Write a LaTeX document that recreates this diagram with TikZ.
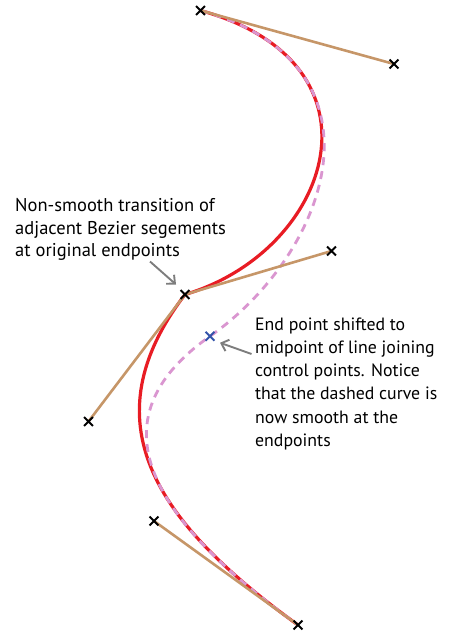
\documentclass[tikz,border=0pt]{standalone}
\usepackage{fontspec}
\setmainfont{PT Sans}
\usetikzlibrary{arrows.meta,shapes.misc,calc}
\definecolor{curvered}{RGB}{232,28,36}
\definecolor{handtan}{RGB}{198,150,104}
\definecolor{dashpink}{RGB}{218,150,208}
\definecolor{markblue}{RGB}{52,84,170}
\definecolor{notegray}{RGB}{125,125,125}
\tikzset{
  pt/.style={cross out,draw=black,line width=1.8pt,minimum size=7pt,inner sep=0pt},
  newpt/.style={pt,draw=markblue},
  handle/.style={handtan,line width=2.6pt},
  original/.style={curvered,line width=3.2pt},
  smoothed/.style={dashpink,line width=2.8pt,dash pattern=on 8pt off 6pt},
  pointer/.style={notegray,line width=1.9pt,-{Straight Barb[length=6.5pt,width=12pt,line width=1.9pt]}},
  note/.style={anchor=north west,inner sep=0pt,align=left}
}
\begin{document}
\begin{tikzpicture}[x=1pt,y=-1pt]
\useasboundingbox (0,0) rectangle (461,637);
% anchor and control points of the two cubic segments
\coordinate (a0) at (200.5,10.5);
\coordinate (a1) at (394,64);
\coordinate (a2) at (331.5,251);
\coordinate (e)  at (185,294.5);
\coordinate (b1) at (88.5,421.5);
\coordinate (b2) at (154,521);
\coordinate (b3) at (298,625);
\coordinate (m)  at ($(a2)!0.5!(b1)$);
% original curve, kink at e
\draw[original] (a0) .. controls (a1) and (a2) .. (e)
                     .. controls (b1) and (b2) .. (b3);
% curve with the shared endpoint moved to the midpoint
\draw[smoothed] (a0) .. controls (a1) and (a2) .. (m)
                     .. controls (b1) and (b2) .. (b3);
% control handles
\draw[handle] (a0) -- (a1);
\draw[handle] (a2) -- (e) -- (b1);
\draw[handle] (b2) -- (b3);
% point markers
\node[pt] (P0) at (a0) {};
\node[pt] (P1) at (a1) {};
\node[pt] (P2) at (a2) {};
\node[pt] (PE) at (e) {};
\node[pt] (P4) at (b1) {};
\node[pt] (P5) at (b2) {};
\node[pt] (P6) at (b3) {};
\node[newpt] (PM) at (m) {};
% annotations
\node[note,font=\fontsize{18.5}{22.4}\selectfont] (t1) at (15,198.5)
  {Non-smooth transition of\\adjacent Bezier segements\\at original endpoints};
\node[note,font=\fontsize{17.8}{23.2}\selectfont] (t2) at (255,317.5)
  {End point shifted to\\midpoint of line joining\\control points. Notice\\that the dashed curve is\\now smooth at the\\endpoints};
\coordinate (k1) at (150,261.5);
\coordinate (k2) at (251.5,354);
\draw[pointer] (k1) -- ($(PE)+(-9,-10)$);
\draw[pointer] (k2) -- ($(PM)+(10,6.5)$);
\end{tikzpicture}
\end{document}
